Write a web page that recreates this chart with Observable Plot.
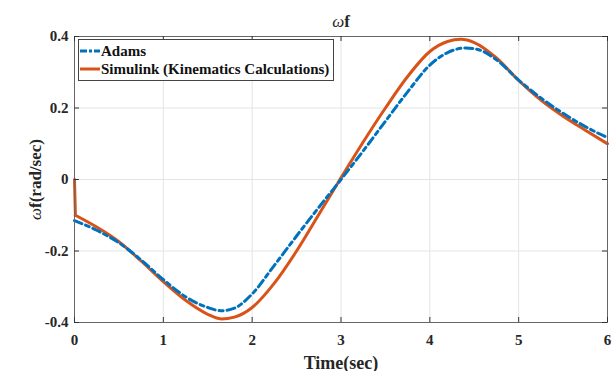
<!DOCTYPE html>
<html><head><meta charset="utf-8">
<script src="https://cdn.jsdelivr.net/npm/d3@7"></script>
<script src="https://cdn.jsdelivr.net/npm/@observablehq/plot@0.6"></script>
<style>body{margin:0;background:#fff}</style>
</head><body><div id="chart"></div>
<script>
const title = "ωf";
const xLabel = "Time(sec)";
const yLabel = "ωf(rad/sec)";
const seriesNames = ["Adams", "Simulink (Kinematics Calculations)"];
const seriesColors = ["#0072BD", "#D95319"];
const xTicks = [0, 1, 2, 3, 4, 5, 6];
const yTicks = [-0.4, -0.2, 0, 0.2, 0.4];
const yTickLabels = ["-0.4", "-0.2", "0", "0.2", "0.4"];

const adamsTime = [0, 0.25, 0.5, 0.75, 1.0, 1.25, 1.5, 1.65, 1.8, 2.0, 2.25, 2.5, 2.75, 3.0, 3.25, 3.5, 3.75, 4.0, 4.2, 4.4, 4.55, 4.75, 5.0, 5.25, 5.5, 5.75, 6.0];
const adamsValues = [-0.115, -0.142, -0.177, -0.225, -0.28, -0.328, -0.358, -0.367, -0.36, -0.32, -0.24, -0.158, -0.078, 0.0, 0.08, 0.163, 0.245, 0.32, 0.355, 0.368, 0.363, 0.335, 0.278, 0.228, 0.185, 0.148, 0.117];

const simulinkTime = [0, 0.01, 0.25, 0.5, 0.75, 1.0, 1.25, 1.5, 1.65, 1.8, 2.0, 2.25, 2.5, 2.75, 3.0, 3.25, 3.5, 3.75, 4.0, 4.2, 4.35, 4.5, 4.75, 5.0, 5.25, 5.5, 5.75, 6.0];
const simulinkValues = [0, -0.1, -0.133, -0.174, -0.228, -0.286, -0.338, -0.377, -0.39, -0.385, -0.358, -0.29, -0.2, -0.098, 0.005, 0.105, 0.2, 0.288, 0.358, 0.386, 0.392, 0.383, 0.34, 0.277, 0.222, 0.177, 0.138, 0.1];

const adamsData = adamsTime.map((t, i) => ({t, v: adamsValues[i]}));
// the initial step (first two samples) is drawn as its own straight piece, the rest as a smooth curve
const simulinkStep = simulinkTime.slice(0, 2).map((t, i) => ({t, v: simulinkValues[i]}));
const simulinkSmooth = simulinkTime.slice(1).map((t, i) => ({t, v: simulinkValues[i + 1]}));

const serif = "'Liberation Serif', 'Times New Roman', serif";
const tickLenX = 6 * 5 / 533;
const tickLenY = 0.8 * 5 / 286;
const axisColor = "#666";
const gridColor = "#e4e4e4";
const dash = "8,4,4,4";

const plot = Plot.plot({
  width: 612, height: 371,
  marginLeft: 74, marginRight: 5, marginTop: 36, marginBottom: 49,
  style: {fontFamily: serif, fontWeight: "bold", fontSize: "15px", background: "#fff", color: "#262626"},
  x: {domain: [0, 6]},
  y: {domain: [-0.4, 0.4]},
  marks: [
    Plot.gridX(xTicks, {stroke: gridColor, strokeOpacity: 1}),
    Plot.gridY(yTicks, {stroke: gridColor, strokeOpacity: 1}),
    Plot.line(simulinkStep, {x: "t", y: "v", stroke: seriesColors[1], strokeWidth: 3}),
    Plot.line(simulinkSmooth, {x: "t", y: "v", stroke: seriesColors[1], strokeWidth: 3, curve: "monotone-x"}),
    Plot.line(adamsData, {x: "t", y: "v", stroke: seriesColors[0], strokeWidth: 3, strokeDasharray: dash, curve: "monotone-x"}),
    Plot.frame({stroke: axisColor}),
    Plot.ruleX(xTicks, {x: d => d, y1: -0.4, y2: -0.4 + tickLenY, stroke: "#333"}),
    Plot.ruleX(xTicks, {x: d => d, y1: 0.4 - tickLenY, y2: 0.4, stroke: "#333"}),
    Plot.ruleY(yTicks, {y: d => d, x1: 0, x2: tickLenX, stroke: "#333"}),
    Plot.ruleY(yTicks, {y: d => d, x1: 6 - tickLenX, x2: 6, stroke: "#333"}),
    Plot.axisX(xTicks, {tickSize: 0, tickPadding: 12, label: null, fontSize: 15, fontFamily: serif, fontWeight: "bold", fontVariant: "normal"}),
    Plot.axisY(yTicks, {tickSize: 0, tickPadding: 6, label: null, fontSize: 15, fontFamily: serif, fontWeight: "bold", fontVariant: "normal", tickFormat: d => yTickLabels[yTicks.indexOf(d)]}),
    Plot.text([title], {frameAnchor: "top", textAnchor: "middle", lineAnchor: "bottom", dy: -10, fontSize: 17, fontFamily: serif}),
    Plot.text([xLabel], {frameAnchor: "bottom", textAnchor: "middle", lineAnchor: "bottom", dy: 46, fontSize: 18, fontFamily: serif}),
    Plot.text([yLabel], {frameAnchor: "left", textAnchor: "middle", rotate: -90, dx: -39, fontSize: 17, fontFamily: serif})
  ]
});

// italic omega
d3.select(plot).selectAll("text").each(function() {
  const s = this.textContent;
  if (s.startsWith("ω") && this.childElementCount === 0) {
    const el = d3.select(this);
    el.text("");
    el.append("tspan").attr("font-style", "italic").attr("font-weight", "normal").text("ω");
    el.append("tspan").text(s.slice(1));
  }
});

// legend
const svg = d3.select(plot);
const lg = svg.append("g").attr("font-family", serif).attr("font-weight", "bold").attr("font-size", 15).attr("text-anchor", "start");
lg.append("rect").attr("x", 78.5).attr("y", 39.5).attr("width", 255).attr("height", 41).attr("fill", "#fff").attr("stroke", "#444");
seriesNames.forEach((name, i) => {
  const cy = 51 + i * 18;
  lg.append("line").attr("x1", 80).attr("x2", 100).attr("y1", cy).attr("y2", cy)
    .attr("stroke", seriesColors[i]).attr("stroke-width", 3)
    .attr("stroke-dasharray", i === 0 ? "7,2,3,2" : null);
  lg.append("text").attr("x", 101).attr("y", cy).attr("dy", "0.35em").attr("fill", "#111").attr("text-anchor", "start").text(name);
});

document.getElementById("chart").append(plot);
</script>
</body></html>
